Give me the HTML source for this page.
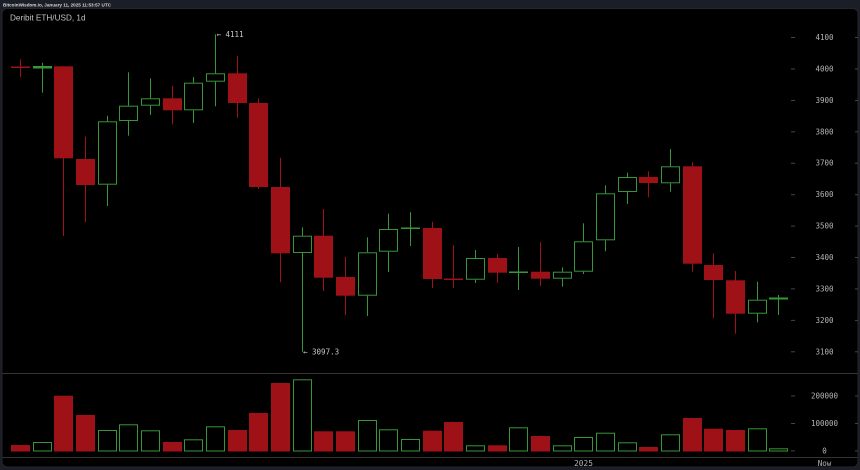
<!DOCTYPE html>
<html><head><meta charset="utf-8"><style>
html,body{margin:0;padding:0;background:#1b1e26;}
svg{display:block;}
.r{fill:#9e1116;}
.g{fill:#379637;}
.gb{fill:none;stroke:#379637;stroke-width:1;}
.lbl{font-family:"DejaVu Sans Mono","Liberation Mono",monospace;font-size:7.5px;fill:#b4b4b4;text-anchor:middle;}
.tk{fill:#444;}
</style></head><body>
<svg width="860" height="470" viewBox="0 0 860 470" xmlns="http://www.w3.org/2000/svg">
<rect x="0" y="0" width="860" height="470" fill="#1b1e26"/>
<text x="3" y="6.3" font-family="Liberation Sans, sans-serif" font-size="4.6" font-weight="bold" fill="#d8d8d8">BitcoinWisdom.io, January 11, 2025 11:53:57 UTC</text>
<rect x="2" y="8.5" width="856" height="458.5" rx="5" fill="#000" stroke="#23262d" stroke-width="1"/>
<text x="10" y="20.3" font-family="Liberation Sans, sans-serif" font-size="8.2" fill="#c4c4c4">Deribit ETH/USD, 1d</text>

<!-- separators -->
<rect x="2.5" y="373" width="855" height="1" fill="#333"/>
<rect x="2.5" y="457" width="855" height="1" fill="#333"/>

<!-- price ticks & labels -->
<g class="tk">
<rect x="791" y="37" width="4" height="1"/><rect x="855" y="37" width="3" height="1"/>
<rect x="791" y="68.5" width="4" height="1"/><rect x="855" y="68.5" width="3" height="1"/>
<rect x="791" y="100" width="4" height="1"/><rect x="855" y="100" width="3" height="1"/>
<rect x="791" y="131.3" width="4" height="1"/><rect x="855" y="131.3" width="3" height="1"/>
<rect x="791" y="162.7" width="4" height="1"/><rect x="855" y="162.7" width="3" height="1"/>
<rect x="791" y="194.2" width="4" height="1"/><rect x="855" y="194.2" width="3" height="1"/>
<rect x="791" y="225.6" width="4" height="1"/><rect x="855" y="225.6" width="3" height="1"/>
<rect x="791" y="257" width="4" height="1"/><rect x="855" y="257" width="3" height="1"/>
<rect x="791" y="288.4" width="4" height="1"/><rect x="855" y="288.4" width="3" height="1"/>
<rect x="791" y="319.9" width="4" height="1"/><rect x="855" y="319.9" width="3" height="1"/>
<rect x="791" y="351.3" width="4" height="1"/><rect x="855" y="351.3" width="3" height="1"/>
<rect x="791" y="395.4" width="4" height="1"/><rect x="855" y="395.4" width="3" height="1"/>
<rect x="791" y="423" width="4" height="1"/><rect x="855" y="423" width="3" height="1"/>
<rect x="791" y="450.4" width="4" height="1"/><rect x="855" y="450.4" width="3" height="1"/>
</g>
<g class="lbl">
<text x="824.5" y="40">4100</text>
<text x="824.5" y="71.4">4000</text>
<text x="824.5" y="102.9">3900</text>
<text x="824.5" y="134.3">3800</text>
<text x="824.5" y="165.7">3700</text>
<text x="824.5" y="197.2">3600</text>
<text x="824.5" y="228.6">3500</text>
<text x="824.5" y="260">3400</text>
<text x="824.5" y="291.4">3300</text>
<text x="824.5" y="322.9">3200</text>
<text x="824.5" y="354.3">3100</text>
<text x="824.5" y="398.4">200000</text>
<text x="824.5" y="426">100000</text>
<text x="824.5" y="453.4">0</text>
<text x="824.5" y="466">Now</text>
<text x="583.5" y="466" font-size="7.8">2025</text>
</g>

<!-- annotations -->
<text x="216.5" y="36.8" font-family="DejaVu Sans Mono, monospace" font-size="7.5" fill="#c8c8c8">← 4111</text>
<text x="303" y="354.4" font-family="DejaVu Sans Mono, monospace" font-size="7.5" fill="#c8c8c8">← 3097.3</text>

<!-- candles -->
<g>
<!-- 1 -->
<rect class="r" x="20" y="59.3" width="1" height="18"/><rect class="r" x="11" y="66.5" width="19" height="1.5"/>
<!-- 2 -->
<rect class="g" x="42" y="62.7" width="1" height="30"/><rect class="g" x="33" y="66" width="19" height="2.5"/>
<!-- 3 -->
<rect class="r" x="63" y="66.3" width="1" height="169.7"/><rect class="r" x="54" y="66.3" width="19" height="92"/>
<!-- 4 -->
<rect class="r" x="85" y="136.7" width="1" height="85.6"/><rect class="r" x="76" y="159" width="19" height="26"/>
<!-- 5 -->
<rect class="g" x="107" y="115.7" width="1" height="5.6"/><rect class="g" x="107" y="184.7" width="1" height="21.3"/><rect class="gb" x="98.5" y="121.8" width="18" height="62.4"/>
<!-- 6 -->
<rect class="g" x="128" y="72.3" width="1" height="33.4"/><rect class="g" x="128" y="121" width="1" height="14.7"/><rect class="gb" x="119.5" y="106.2" width="18" height="14.3"/>
<!-- 7 -->
<rect class="g" x="150" y="78.3" width="1" height="20"/><rect class="g" x="150" y="105.7" width="1" height="9.3"/><rect class="gb" x="141.5" y="98.8" width="18" height="6.4"/>
<!-- 8 -->
<rect class="r" x="172" y="85.7" width="1" height="38.6"/><rect class="r" x="163" y="98.3" width="19" height="12"/>
<!-- 9 -->
<rect class="g" x="193" y="77" width="1" height="5.7"/><rect class="g" x="193" y="110.3" width="1" height="12.7"/><rect class="gb" x="184.5" y="83.2" width="18" height="26.6"/>
<!-- 10 -->
<rect class="g" x="215" y="34.3" width="1" height="39"/><rect class="g" x="215" y="81.7" width="1" height="24.6"/><rect class="gb" x="206.5" y="73.8" width="18" height="7.4"/>
<!-- 11 -->
<rect class="r" x="237" y="56" width="1" height="61.7"/><rect class="r" x="228" y="73.3" width="19" height="29.7"/>
<!-- 12 -->
<rect class="r" x="258" y="98.3" width="1" height="90.7"/><rect class="r" x="249" y="103" width="19" height="84"/>
<!-- 13 -->
<rect class="r" x="280" y="157.7" width="1" height="124.6"/><rect class="r" x="271" y="187" width="19" height="66.3"/>
<!-- 14 -->
<rect class="g" x="302" y="227.3" width="1" height="8.4"/><rect class="g" x="302" y="253" width="1" height="98.7"/><rect class="gb" x="293.5" y="236.2" width="18" height="16.3"/>
<!-- 15 -->
<rect class="r" x="323" y="209" width="1" height="82"/><rect class="r" x="314" y="235.7" width="19" height="42"/>
<!-- 16 -->
<rect class="r" x="345" y="257" width="1" height="58"/><rect class="r" x="336" y="277" width="19" height="18.7"/>
<!-- 17 -->
<rect class="g" x="367" y="237.3" width="1" height="15"/><rect class="g" x="367" y="295.7" width="1" height="20.3"/><rect class="gb" x="358.5" y="252.8" width="18" height="42.4"/>
<!-- 18 -->
<rect class="g" x="388" y="213.7" width="1" height="15.3"/><rect class="g" x="388" y="251.7" width="1" height="20.3"/><rect class="gb" x="379.5" y="229.5" width="18" height="21.7"/>
<!-- 19 -->
<rect class="g" x="410" y="212.3" width="1" height="33.7"/><rect class="g" x="401" y="227.5" width="19" height="1.5"/>
<!-- 20 -->
<rect class="r" x="432" y="221.7" width="1" height="66.3"/><rect class="r" x="423" y="228" width="19" height="51"/>
<!-- 21 -->
<rect class="r" x="453" y="245" width="1" height="43"/><rect class="r" x="444" y="278.5" width="19" height="1.5"/>
<!-- 22 -->
<rect class="g" x="475" y="250" width="1" height="8"/><rect class="g" x="475" y="279.7" width="1" height="3.3"/><rect class="gb" x="466.5" y="258.5" width="18" height="20.7"/>
<!-- 23 -->
<rect class="r" x="497" y="254" width="1" height="28.7"/><rect class="r" x="488" y="258" width="19" height="14.7"/>
<!-- 24 -->
<rect class="g" x="518" y="247" width="1" height="43"/><rect class="g" x="509" y="271.5" width="19" height="1.5"/>
<!-- 25 -->
<rect class="r" x="540" y="242.3" width="1" height="43.7"/><rect class="r" x="531" y="271.7" width="19" height="7"/>
<!-- 26 -->
<rect class="g" x="562" y="267.3" width="1" height="4.4"/><rect class="g" x="562" y="278.7" width="1" height="8"/><rect class="gb" x="553.5" y="272.2" width="18" height="6"/>
<!-- 27 -->
<rect class="g" x="583" y="223.3" width="1" height="18"/><rect class="g" x="583" y="271.7" width="1" height="2.3"/><rect class="gb" x="574.5" y="241.8" width="18" height="29.4"/>
<!-- 28 -->
<rect class="g" x="605" y="185.3" width="1" height="8"/><rect class="g" x="605" y="240.3" width="1" height="11"/><rect class="gb" x="596.5" y="193.8" width="18" height="46"/>
<!-- 29 -->
<rect class="g" x="627" y="172.7" width="1" height="4.3"/><rect class="g" x="627" y="192" width="1" height="12"/><rect class="gb" x="618.5" y="177.5" width="18" height="14"/>
<!-- 30 -->
<rect class="r" x="648" y="171.3" width="1" height="26"/><rect class="r" x="639" y="177" width="19" height="6"/>
<!-- 31 -->
<rect class="g" x="670" y="149" width="1" height="17.3"/><rect class="g" x="670" y="183.3" width="1" height="8.4"/><rect class="gb" x="661.5" y="166.8" width="18" height="16"/>
<!-- 32 -->
<rect class="r" x="692" y="162.3" width="1" height="109.4"/><rect class="r" x="683" y="166.3" width="19" height="97.4"/>
<!-- 33 -->
<rect class="r" x="713" y="253.3" width="1" height="65"/><rect class="r" x="704" y="265" width="19" height="15"/>
<!-- 34 -->
<rect class="r" x="735" y="271" width="1" height="62.7"/><rect class="r" x="726" y="280.3" width="19" height="33.4"/>
<!-- 35 -->
<rect class="g" x="757" y="281.7" width="1" height="18"/><rect class="g" x="757" y="313.7" width="1" height="8.6"/><rect class="gb" x="748.5" y="300.2" width="18" height="13"/>
<!-- 36 -->
<rect class="g" x="778" y="295" width="1" height="20"/><rect class="g" x="769" y="297.5" width="19" height="2"/>
</g>

<!-- volume -->
<g>
<rect class="r" x="11" y="445" width="19" height="6.5"/>
<rect class="gb" x="33.5" y="442.5" width="18" height="8.5"/>
<rect class="r" x="54" y="395.7" width="19" height="55.8"/>
<rect class="r" x="76" y="415" width="19" height="36.5"/>
<rect class="gb" x="98.5" y="430.5" width="18" height="20.5"/>
<rect class="gb" x="119.5" y="424.8" width="18" height="26.2"/>
<rect class="gb" x="141.5" y="430.8" width="18" height="20.2"/>
<rect class="r" x="163" y="442" width="19" height="9.5"/>
<rect class="gb" x="184.5" y="439.8" width="18" height="11.2"/>
<rect class="gb" x="206.5" y="426.8" width="18" height="24.2"/>
<rect class="r" x="228" y="430" width="19" height="21.5"/>
<rect class="r" x="249" y="413" width="19" height="38.5"/>
<rect class="r" x="271" y="383" width="19" height="68.5"/>
<rect class="gb" x="293.5" y="379.8" width="18" height="71.2"/>
<rect class="r" x="314" y="431.3" width="19" height="20.2"/>
<rect class="r" x="336" y="431.3" width="19" height="20.2"/>
<rect class="gb" x="358.5" y="420.5" width="18" height="30.5"/>
<rect class="gb" x="379.5" y="429.8" width="18" height="21.2"/>
<rect class="gb" x="401.5" y="439.5" width="18" height="11.5"/>
<rect class="r" x="423" y="430.7" width="19" height="20.8"/>
<rect class="r" x="444" y="422" width="19" height="29.5"/>
<rect class="gb" x="466.5" y="445.8" width="18" height="5.2"/>
<rect class="r" x="488" y="445.3" width="19" height="6.2"/>
<rect class="gb" x="509.5" y="427.8" width="18" height="23.2"/>
<rect class="r" x="531" y="436" width="19" height="15.5"/>
<rect class="gb" x="553.5" y="445.8" width="18" height="5.2"/>
<rect class="gb" x="574.5" y="437.5" width="18" height="13.5"/>
<rect class="gb" x="596.5" y="433.2" width="18" height="17.8"/>
<rect class="gb" x="618.5" y="442.8" width="18" height="8.2"/>
<rect class="r" x="639" y="447" width="19" height="4.5"/>
<rect class="gb" x="661.5" y="434.8" width="18" height="16.2"/>
<rect class="r" x="683" y="418" width="19" height="33.5"/>
<rect class="r" x="704" y="428.7" width="19" height="22.8"/>
<rect class="r" x="726" y="430" width="19" height="21.5"/>
<rect class="gb" x="748.5" y="428.8" width="18" height="22.2"/>
<rect class="gb" x="769.5" y="448.8" width="18" height="2.2"/>
</g>
</svg>
</body></html>
